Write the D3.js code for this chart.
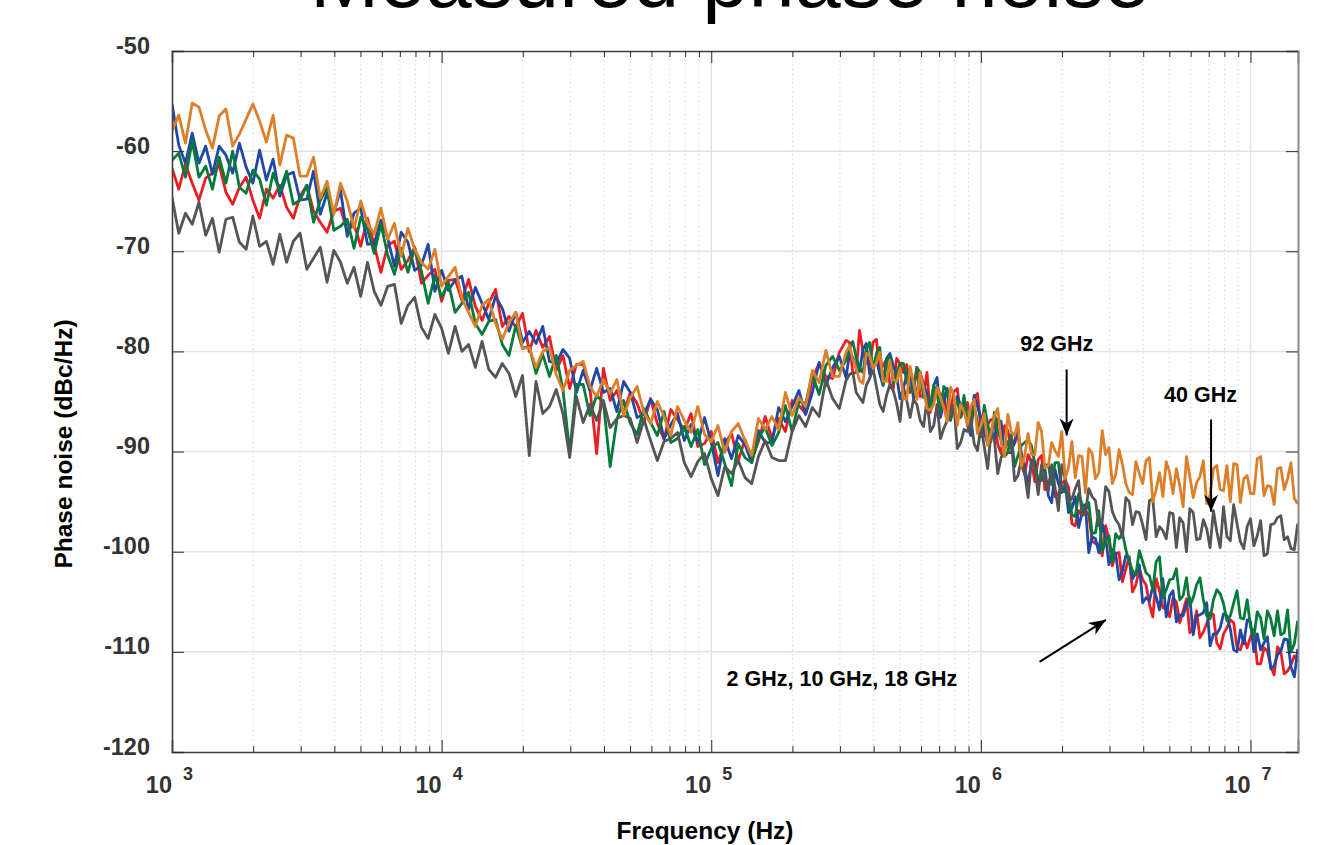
<!DOCTYPE html>
<html>
<head>
<meta charset="utf-8">
<script src="https://cdn.jsdelivr.net/npm/d3@7"></script>
<style>
  body { margin: 0; background: #fff; }
  svg { display: block; }
  text { font-family: "Liberation Sans", Arial, Helvetica, sans-serif; }
</style>
</head>
<body>
<svg id="chart" width="1338" height="845"></svg>
<script>
// sample frequencies, as log10(Hz); finer spacing above 10^5.5
const freqExp = [
  3,3.025,3.05,3.075, 3.1,3.125,3.15,3.175, 3.2,3.225,3.25,3.275, 3.3,3.325,3.35,3.375,
  3.4,3.425,3.45,3.475, 3.5,3.525,3.55,3.575, 3.6,3.625,3.65,3.675, 3.7,3.725,3.75,3.775,
  3.8,3.825,3.85,3.875, 3.9,3.925,3.95,3.975, 4,4.025,4.05,4.075, 4.1,4.125,4.15,4.175,
  4.2,4.225,4.25,4.275, 4.3,4.325,4.35,4.375, 4.4,4.425,4.45,4.475, 4.5,4.525,4.55,4.575,
  4.6,4.625,4.65,4.675, 4.7,4.725,4.75,4.775, 4.8,4.825,4.85,4.875, 4.9,4.925,4.95,4.975,
  5,5.025,5.05,5.075, 5.1,5.125,5.15,5.175, 5.2,5.225,5.25,5.275, 5.3,5.325,5.35,5.375,
  5.4,5.425,5.45,5.475,
  5.5,5.5125,5.525,5.5375,5.55,5.5625,5.575,5.5875, 5.6,5.6125,5.625,5.6375,5.65,5.6625,5.675,5.6875,
  5.7,5.7125,5.725,5.7375,5.75,5.7625,5.775,5.7875, 5.8,5.8125,5.825,5.8375,5.85,5.8625,5.875,5.8875,
  5.9,5.9125,5.925,5.9375,5.95,5.9625,5.975,5.9875, 6,6.0125,6.025,6.0375,6.05,6.0625,6.075,6.0875,
  6.1,6.1125,6.125,6.1375,6.15,6.1625,6.175,6.1875, 6.2,6.2125,6.225,6.2375,6.25,6.2625,6.275,6.2875,
  6.3,6.3125,6.325,6.3375,6.35,6.3625,6.375,6.3875, 6.4,6.4125,6.425,6.4375,6.45,6.4625,6.475,6.4875,
  6.5,6.5125,6.525,6.5375,6.55,6.5625,6.575,6.5875, 6.6,6.6125,6.625,6.6375,6.65,6.6625,6.675,6.6875,
  6.7,6.7125,6.725,6.7375,6.75,6.7625,6.775,6.7875, 6.8,6.8125,6.825,6.8375,6.85,6.8625,6.875,6.8875,
  6.9,6.9125,6.925,6.9375,6.95,6.9625,6.975,6.9875, 7,7.0125,7.025,7.0375,7.05,7.0625,7.075,7.0875,
  7.1,7.1125,7.125,7.1375,7.15,7.1625,7.175
];

// phase noise traces, dBc/Hz
const pnRed = [
  -61.7,-63.8,-61.3,-63.2,-64.9,-62.7,-62.2,-61.4, -64.1,-65.3,-63.6,-62.6,-64.9,-66.7,-63.8,-64.7,
  -63.4,-65.6,-66.7,-64.5,-63.4,-66.0,-67.1,-68.1, -66.0,-65.7,-68.0,-67.3,-69.5,-66.7,-69.4,-72.1,
  -69.4,-69.0,-71.8,-70.9,-69.6,-73.2,-72.4,-71.8, -75.0,-72.9,-72.8,-74.9,-72.8,-75.5,-76.9,-75.2,
  -73.8,-77.5,-76.5,-77.6,-76.2,-80.0,-77.9,-79.6, -78.5,-81.9,-80.4,-83.7,-81.3,-81.3,-83.7,-90.2,
  -81.7,-84.9,-83.9,-86.2,-84.1,-85.2,-87.1,-84.7, -87.2,-88.8,-85.8,-86.8,-87.9,-86.2,-89.5,-89.2,
  -88.0,-91.1,-89.2,-88.2,-90.9,-88.8,-90.8,-89.0, -86.5,-88.7,-86.7,-88.0,-84.9,-85.4,-86.2,-82.7,
  -81.2,-82.5,-82.7,-80.1,
  -78.9,-79.1,-82.2,-82.1,-77.9,-80.0,-81.1,-81.4, -79.1,-78.8,-82.0,-81.4,-80.8,-83.2,-83.7,-80.7,
  -81.2,-82.1,-81.3,-84.1,-83.7,-81.6,-84.5,-84.4, -82.1,-86.1,-84.7,-83.5,-84.4,-84.2,-86.4,-86.0,
  -84.0,-83.7,-86.6,-85.8,-85.1,-87.4,-84.6,-84.2, -87.8,-87.6,-87.3,-86.8,-86.9,-89.3,-90.2,-87.4,
  -87.9,-89.7,-89.2,-88.1,-91.3,-92.3,-90.3,-91.1, -93.0,-90.8,-90.4,-93.8,-93.1,-92.4,-94.5,-94.2,
  -93.2,-92.8,-93.6,-97.2,-97.4,-95.9,-96.4,-95.9, -96.3,-98.9,-99.2,-99.3,-100.4,-97.4,-98.8,-101.4,
  -100.2,-100.1,-103.0,-101.7,-100.5,-104.0,-103.3,-101.7, -102.8,-103.3,-105.2,-106.5,-102.7,-103.9,-105.6,-105.7,
  -106.5,-104.6,-105.0,-107.1,-105.9,-104.7,-108.1,-107.6, -105.9,-108.6,-108.0,-107.2,-106.1,-106.3,-109.1,-109.7,
  -108.2,-107.6,-106.8,-107.1,-109.6,-109.8,-108.6,-109.6, -108.5,-107.8,-111.2,-111.2,-109.6,-109.9,-111.4,-112.3,
  -109.5,-110.0,-112.2,-111.9,-111.3,-110.4,-111.0
];
const pnBlue = [
  -55.3,-59.4,-61.2,-58.2,-61.2,-59.5,-62.3,-59.5, -60.4,-62.2,-59.2,-61.6,-63.2,-59.9,-62.9,-60.8,
  -64.5,-62.4,-62.1,-64.9,-64.8,-62.0,-66.3,-64.2, -66.2,-63.9,-68.5,-66.2,-65.7,-69.3,-69.2,-66.9,
  -68.7,-71.5,-68.1,-69.1,-71.9,-71.4,-69.3,-74.0, -71.9,-73.9,-72.9,-72.5,-75.8,-73.6,-75.2,-76.8,
  -74.5,-75.7,-78.0,-76.1,-79.1,-78.0,-79.2,-77.5, -81.0,-81.2,-79.8,-80.7,-84.1,-81.9,-83.9,-81.7,
  -84.1,-83.7,-86.0,-83.0,-84.1,-86.6,-86.3,-84.8, -85.8,-88.7,-87.3,-86.2,-88.9,-87.3,-89.1,-86.6,
  -89.1,-92.4,-88.7,-90.7,-88.4,-89.3,-91.1,-87.9, -89.1,-89.1,-85.6,-87.0,-85.5,-83.9,-86.3,-84.1,
  -81.1,-83.4,-81.6,-80.5,
  -82.6,-80.2,-80.6,-81.6,-82.0,-79.8,-79.2,-82.3, -81.3,-80.8,-82.3,-83.4,-80.7,-80.2,-81.4,-82.4,
  -84.7,-83.7,-82.3,-81.7,-84.7,-84.1,-82.1,-83.3, -84.2,-85.8,-83.4,-82.6,-86.6,-85.1,-83.7,-86.3,
  -85.8,-84.5,-85.4,-85.2,-87.3,-88.4,-84.4,-85.5, -86.6,-88.1,-89.2,-87.8,-88.8,-86.8,-87.0,-90.4,
  -90.1,-90.1,-88.9,-88.0,-90.1,-91.8,-93.2,-91.1, -91.0,-93.2,-92.5,-91.7,-94.4,-95.1,-91.8,-93.2,
  -94.1,-93.2,-96.1,-95.7,-94.5,-97.6,-96.1,-95.3, -100.1,-98.5,-98.7,-100.1,-97.2,-98.5,-101.3,-99.8,
  -100.2,-102.8,-101.9,-100.4,-100.7,-102.7,-102.1,-101.3, -105.1,-104.6,-104.9,-103.5,-104.5,-105.8,-102.7,-106.5,
  -104.4,-103.9,-107.0,-106.3,-106.4,-105.2,-104.6,-108.3, -106.4,-106.3,-106.1,-105.1,-109.4,-108.2,-108.2,-107.6,
  -106.2,-106.4,-107.7,-109.8,-110.0,-107.8,-109.2,-106.8, -107.0,-110.0,-108.2,-109.8,-109.1,-108.5,-111.7,-111.4,
  -110.3,-109.9,-108.7,-108.8,-111.5,-112.5,-109.7
];
const pnGreen = [
  -60.9,-60.2,-62.6,-59.0,-62.6,-61.5,-63.8,-60.6, -63.2,-60.0,-63.6,-64.2,-61.9,-62.8,-65.4,-62.2,
  -64.0,-62.0,-65.3,-64.9,-63.4,-67.1,-64.9,-63.7, -67.9,-67.5,-66.8,-69.7,-66.6,-67.8,-70.2,-67.3,
  -70.4,-72.3,-69.7,-72.1,-69.7,-72.0,-75.2,-72.4, -74.6,-73.1,-76.1,-75.2,-74.1,-77.2,-78.3,-77.0,
  -76.8,-79.3,-80.4,-77.4,-79.7,-79.5,-82.2,-80.3, -82.5,-80.4,-83.8,-90.1,-83.3,-83.3,-86.4,-84.4,
  -85.1,-91.5,-86.8,-84.9,-87.2,-88.3,-85.7,-87.1, -88.4,-86.0,-89.1,-88.7,-87.5,-89.5,-87.8,-91.3,
  -89.7,-89.1,-91.2,-93.4,-89.2,-90.6,-91.1,-88.6, -87.6,-89.4,-88.1,-85.4,-88.0,-85.0,-85.2,-82.3,
  -84.3,-81.4,-80.5,-81.9,
  -80.9,-79.7,-79.0,-80.6,-81.6,-82.1,-79.8,-79.1, -81.9,-80.2,-79.6,-83.3,-81.1,-80.5,-83.2,-82.2,
  -81.2,-81.2,-83.0,-83.8,-84.0,-81.6,-82.1,-84.6, -84.6,-85.7,-83.4,-84.3,-86.0,-83.5,-83.9,-86.9,
  -85.5,-84.9,-86.5,-84.4,-87.0,-87.3,-85.4,-87.1, -88.5,-85.4,-87.2,-89.0,-86.1,-87.9,-88.9,-90.5,
  -90.1,-88.3,-91.5,-90.4,-89.4,-89.1,-88.8,-89.4, -91.2,-92.9,-92.9,-91.4,-91.3,-93.3,-91.1,-91.1,
  -94.0,-94.0,-94.2,-96.3,-96.5,-94.2,-95.2,-95.9, -95.1,-98.2,-98.1,-95.9,-100.0,-98.9,-98.4,-101.0,
  -98.2,-98.7,-98.1,-99.8,-101.0,-101.9,-102.3,-99.9, -101.0,-102.1,-102.4,-103.8,-101.0,-100.5,-104.6,-103.8,
  -102.8,-102.7,-101.7,-104.8,-104.4,-102.6,-105.4,-104.6, -103.3,-102.6,-104.8,-106.4,-106.7,-104.8,-103.8,-104.2,
  -105.2,-106.9,-106.4,-105.1,-103.9,-106.6,-106.7,-104.8, -107.5,-108.5,-106.0,-106.6,-108.7,-105.9,-106.7,-108.4,
  -105.9,-108.3,-108.1,-105.8,-110.0,-109.2,-106.9
];
const pn40GHz = [
  -64.6,-68.2,-66.2,-67.3,-65.1,-68.4,-66.7,-70.1, -66.8,-66.6,-69.1,-69.8,-66.5,-69.5,-69.0,-71.3,
  -68.3,-71.1,-69.0,-68.2,-71.8,-70.7,-69.6,-73.1, -69.9,-71.1,-73.2,-71.6,-74.5,-71.1,-74.0,-75.4,
  -73.5,-73.3,-77.2,-75.4,-74.6,-77.6,-78.7,-76.3, -77.7,-80.2,-77.5,-80.0,-79.3,-81.6,-79.0,-81.8,
  -82.6,-81.2,-82.2,-84.5,-82.4,-90.4,-83.0,-86.2, -85.5,-83.8,-86.2,-90.6,-84.5,-87.1,-85.3,-86.9,
  -84.9,-87.6,-86.7,-86.4,-86.7,-89.1,-86.8,-88.9, -90.9,-89.0,-88.7,-88.1,-91.1,-92.5,-91.0,-90.2,
  -92.7,-94.4,-91.5,-92.2,-90.9,-92.6,-93.2,-90.5, -88.9,-90.6,-90.9,-90.9,-88.0,-86.4,-87.5,-85.6,
  -86.5,-82.8,-84.7,-85.7,
  -82.9,-82.3,-82.1,-84.1,-84.6,-85.1,-83.4,-82.7, -81.7,-83.5,-85.3,-86.0,-84.4,-83.3,-83.9,-85.2,
  -87.0,-83.5,-84.9,-86.6,-84.8,-85.3,-86.9,-87.5, -84.8,-88.0,-87.4,-85.3,-88.7,-87.7,-86.9,-86.6,
  -85.4,-89.7,-89.1,-87.8,-88.0,-86.7,-89.2,-89.9, -87.4,-89.5,-91.7,-88.1,-88.8,-92.2,-90.6,-89.9,
  -89.0,-88.6,-92.9,-92.4,-90.8,-92.2,-94.6,-90.8, -91.5,-94.3,-91.3,-92.5,-94.0,-91.3,-93.6,-95.9,
  -91.3,-92.7,-95.0,-94.7,-93.7,-92.9,-96.4,-96.2, -93.7,-94.5,-94.9,-97.4,-97.0,-93.5,-94.0,-96.0,
  -96.8,-97.3,-98.6,-94.6,-95.0,-97.3,-96.0,-96.1, -97.3,-98.8,-94.9,-94.7,-98.5,-97.5,-97.9,-98.7,
  -96.1,-96.2,-99.6,-96.6,-97.1,-100.0,-95.7,-96.1, -98.8,-98.7,-96.8,-97.7,-99.6,-95.9,-98.0,-99.6,
  -95.5,-98.5,-98.9,-95.3,-97.2,-99.0,-99.7,-97.5, -96.7,-99.4,-98.4,-96.9,-100.4,-100.2,-97.3,-97.2,
  -96.6,-96.4,-98.8,-98.5,-99.7,-99.8,-97.2
];
const pn92GHz = [
  -58.0,-56.4,-59.2,-55.2,-55.6,-57.9,-59.7,-56.5, -55.8,-59.5,-58.3,-56.8,-55.3,-57.0,-59.1,-56.4,
  -61.4,-58.4,-58.7,-62.5,-62.5,-60.6,-64.7,-63.0, -66.3,-63.2,-65.0,-67.7,-65.0,-67.2,-68.3,-65.7,
  -68.8,-67.2,-70.5,-67.7,-69.8,-71.1,-71.8,-69.8, -73.5,-72.5,-71.6,-74.7,-76.1,-77.5,-75.4,-74.8,
  -77.2,-78.8,-77.1,-76.1,-79.7,-79.6,-81.6,-80.0, -79.6,-82.3,-83.9,-81.9,-81.4,-81.0,-83.5,-84.5,
  -82.8,-84.2,-82.8,-86.4,-84.6,-83.5,-86.1,-87.2, -85.0,-86.5,-88.4,-85.5,-86.9,-88.1,-85.5,-88.3,
  -89.0,-87.4,-90.1,-88.0,-87.2,-88.9,-90.4,-86.7, -87.8,-86.5,-87.8,-84.1,-86.4,-84.6,-85.5,-81.9,
  -83.1,-79.9,-82.5,-82.5,
  -80.1,-79.4,-80.8,-81.7,-82.9,-83.2,-80.2,-80.4, -81.7,-81.1,-80.1,-83.0,-83.0,-80.9,-82.8,-83.0,
  -81.7,-84.7,-84.8,-81.5,-83.1,-84.8,-82.1,-83.7, -85.7,-85.9,-85.3,-83.6,-84.6,-85.6,-87.0,-83.6,
  -84.3,-87.4,-85.3,-86.0,-87.3,-85.5,-84.8,-88.2, -87.4,-86.2,-89.4,-88.1,-86.4,-85.7,-88.9,-90.5,
  -86.3,-88.0,-88.4,-87.1,-91.5,-90.4,-88.2,-90.3, -90.3,-87.1,-88.0,-91.6,-91.4,-89.1,-89.9,-90.5,
  -88.0,-92.7,-91.6,-89.0,-92.6,-90.4,-90.5,-94.1, -89.7,-90.2,-92.7,-92.1,-87.9,-90.3,-89.6,-93.2,
  -92.3,-89.8,-91.3,-93.2,-94.1,-94.3,-91.0,-92.2, -93.2,-90.9,-90.6,-95.0,-93.8,-92.1,-94.5,-91.0,
  -92.1,-94.2,-91.7,-93.4,-95.5,-90.5,-92.5,-94.6, -93.1,-92.5,-90.9,-95.2,-94.3,-91.7,-91.4,-93.8,
  -93.9,-91.4,-95.0,-91.2,-91.3,-95.1,-92.7,-92.4, -94.2,-94.2,-90.7,-90.5,-94.4,-93.4,-93.5,-95.3,
  -91.7,-91.6,-93.8,-92.7,-91.1,-94.7,-95.2
];

const seriesList = [
  { name: "2 GHz",  values: pnRed,   color: "#ec1c24" },
  { name: "10 GHz", values: pnBlue,  color: "#2049a5" },
  { name: "18 GHz", values: pnGreen, color: "#067a3b" },
  { name: "40 GHz", values: pn40GHz, color: "#555555" },
  { name: "92 GHz", values: pn92GHz, color: "#dd7e28" }
];

const xTickExp = [3, 4, 5, 6, 7];
const yTicks = [-120, -110, -100, -90, -80, -70, -60, -50];

const notes = [
  { text: "92 GHz", f: 1.40e6, db: -80.0 },
  { text: "40 GHz", f: 4.78e6, db: -85.0 },
  { text: "2 GHz, 10 GHz, 18 GHz", f: 1.14e5, db: -113.4 }
];
const arrows = [
  { f1: 2.08e6, db1: -81.8, f2: 2.08e6, db2: -88.4 },
  { f1: 7.14e6, db1: -86.8, f2: 7.14e6, db2: -96.0 },
  { f1: 1.65e6, db1: -111.0, f2: 2.91e6, db2: -106.8 }
];

const width = 1338, height = 845;
const margin = { top: 51, right: 40, bottom: 93, left: 172 };
const plotW = width - margin.left - margin.right;
const plotH = height - margin.top - margin.bottom;

const svg = d3.select("#chart");

const x = d3.scaleLog().domain([1e3, 1.5e7]).range([0, plotW]);
const y = d3.scaleLinear().domain([-120, -50]).range([plotH, 0]);

const majorX = xTickExp.map(e => Math.pow(10, e));
let minorX = [];
xTickExp.forEach(e => {
  for (let m = 2; m <= 9; m++) {
    const v = m * Math.pow(10, e);
    if (v < 1.5e7) minorX.push(v);
  }
});

// title (partly off the top of the page, as in the source)
svg.append("text")
  .attr("x", 730).attr("y", 7)
  .attr("text-anchor", "middle")
  .style("font-size", "83px")
  .style("fill", "#000")
  .text("Measured phase noise");

const g = svg.append("g")
  .attr("transform", `translate(${margin.left},${margin.top})`);

svg.append("defs").append("clipPath").attr("id", "plotClip")
  .append("rect").attr("width", plotW).attr("height", plotH);

// grid
g.append("g").selectAll("line")
  .data(minorX)
  .enter().append("line")
  .attr("x1", d => x(d)).attr("x2", d => x(d))
  .attr("y1", 0).attr("y2", plotH)
  .attr("stroke", "#d6d6d6")
  .attr("stroke-width", 1)
  .attr("stroke-dasharray", "1.5,3");

g.append("g").selectAll("line")
  .data(majorX.slice(1))
  .enter().append("line")
  .attr("x1", d => x(d)).attr("x2", d => x(d))
  .attr("y1", 0).attr("y2", plotH)
  .attr("stroke", "#e2e2e2")
  .attr("stroke-width", 1.5);

g.append("g").selectAll("line")
  .data(yTicks.slice(1, -1))
  .enter().append("line")
  .attr("x1", 0).attr("x2", plotW)
  .attr("y1", d => y(d)).attr("y2", d => y(d))
  .attr("stroke", "#e2e2e2")
  .attr("stroke-width", 1.5);

// traces
const line = d3.line()
  .x((d, i) => x(Math.pow(10, freqExp[i])))
  .y(d => y(d));

g.append("g").attr("clip-path", "url(#plotClip)")
  .selectAll("path")
  .data(seriesList)
  .enter().append("path")
  .attr("fill", "none")
  .attr("stroke", d => d.color)
  .attr("stroke-width", 2.8)
  .attr("stroke-linejoin", "round")
  .attr("d", d => line(d.values));

// axes
function styleAxis(sel, domainColor, domainWidth) {
  sel.select(".domain").attr("stroke", domainColor).attr("stroke-width", domainWidth);
  sel.selectAll(".tick line").attr("stroke", "#2a2a2a").attr("stroke-width", 1);
}

g.append("g")
  .attr("transform", `translate(0,${plotH})`)
  .call(d3.axisBottom(x).tickValues(majorX).tickSize(-12).tickFormat(() => ""))
  .call(s => styleAxis(s, "#404040", 1.6));
g.append("g")
  .attr("transform", `translate(0,${plotH})`)
  .call(d3.axisBottom(x).tickValues(minorX).tickSize(-6).tickFormat(() => ""))
  .call(s => { s.select(".domain").remove(); s.selectAll(".tick line").attr("stroke", "#2a2a2a"); });

g.append("g")
  .call(d3.axisTop(x).tickValues(majorX).tickSize(-12).tickFormat(() => ""))
  .call(s => styleAxis(s, "#404040", 1.6));
g.append("g")
  .call(d3.axisTop(x).tickValues(minorX).tickSize(-6).tickFormat(() => ""))
  .call(s => { s.select(".domain").remove(); s.selectAll(".tick line").attr("stroke", "#2a2a2a"); });

const yAxisG = g.append("g")
  .call(d3.axisLeft(y).tickValues(yTicks).tickSize(-12).tickPadding(22).tickFormat(d => String(d)))
  .call(s => styleAxis(s, "#404040", 1.6));
yAxisG.selectAll(".tick text")
  .attr("dy", "0.09em")
  .style("font-size", "23.5px")
  .style("font-weight", "bold")
  .style("fill", "#333");

g.append("g")
  .attr("transform", `translate(${plotW},0)`)
  .call(d3.axisRight(y).tickValues(yTicks).tickSize(-12).tickFormat(() => ""))
  .call(s => styleAxis(s, "#8a8a8a", 2));

// x tick labels: 10 with exponent
const xLab = g.append("g").selectAll("g")
  .data(xTickExp)
  .enter().append("g")
  .attr("transform", d => `translate(${x(Math.pow(10, d))},${plotH})`);
xLab.append("text")
  .attr("x", 0).attr("y", 41)
  .attr("text-anchor", "end")
  .style("font-size", "23.5px").style("font-weight", "bold").style("fill", "#333")
  .text("10");
xLab.append("text")
  .attr("x", 11).attr("y", 28)
  .style("font-size", "18px").style("font-weight", "bold").style("fill", "#333")
  .text(d => d);

// axis titles
svg.append("text")
  .attr("x", 705).attr("y", 839)
  .attr("text-anchor", "middle")
  .style("font-size", "24.5px").style("font-weight", "bold")
  .text("Frequency (Hz)");
svg.append("text")
  .attr("transform", "translate(72,444) rotate(-90)")
  .attr("text-anchor", "middle")
  .style("font-size", "24.5px").style("font-weight", "bold")
  .text("Phase noise (dBc/Hz)");

// annotations
svg.select("defs").append("marker")
  .attr("id", "arrowHead")
  .attr("viewBox", "-18 -8 19 16")
  .attr("refX", 0).attr("refY", 0)
  .attr("markerWidth", 19).attr("markerHeight", 16)
  .attr("markerUnits", "userSpaceOnUse")
  .attr("orient", "auto")
  .append("path")
  .attr("d", "M0,0 L-17,-7 L-12,0 L-17,7 Z")
  .attr("fill", "#000");

g.append("g").selectAll("line")
  .data(arrows)
  .enter().append("line")
  .attr("x1", d => x(d.f1)).attr("y1", d => y(d.db1))
  .attr("x2", d => x(d.f2)).attr("y2", d => y(d.db2))
  .attr("stroke", "#000")
  .attr("stroke-width", 2)
  .attr("marker-end", "url(#arrowHead)");

g.append("g").selectAll("text")
  .data(notes)
  .enter().append("text")
  .attr("x", d => x(d.f)).attr("y", d => y(d.db))
  .style("font-size", "21.5px").style("font-weight", "bold").style("fill", "#000")
  .text(d => d.text);
</script>
</body>
</html>
